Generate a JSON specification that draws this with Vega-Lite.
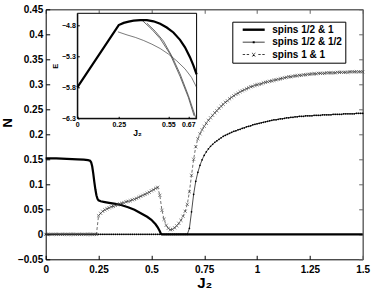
{
"$schema":"https://vega.github.io/schema/vega-lite/v6.json",
"width":317,"height":250,"autosize":"none",
"padding":{"left":45.7,"top":9.3,"right":11.3,"bottom":34.7},
"background":"white",
"config":{"font":"Liberation Sans","view":{"stroke":null},
 "axis":{"grid":false,"domainColor":"black","tickColor":"black","labelColor":"black","titleColor":"black","labelFont":"Liberation Sans","titleFont":"Liberation Sans","labelFontWeight":"bold","titleFontWeight":"bold","labelFlush":false,"labelOverlap":false,"labelBound":false}},
"datasets":{
 "s1":[{"x":0,"n":0.152},{"x":0.05,"n":0.1518},{"x":0.1,"n":0.151},{"x":0.15,"n":0.150},{"x":0.18,"n":0.1492},{"x":0.2,"n":0.1483},{"x":0.21,"n":0.147},{"x":0.215,"n":0.144},{"x":0.22,"n":0.136},{"x":0.225,"n":0.122},{"x":0.23,"n":0.105},{"x":0.235,"n":0.090},{"x":0.24,"n":0.078},{"x":0.245,"n":0.071},{"x":0.25,"n":0.068},{"x":0.26,"n":0.066},{"x":0.28,"n":0.0645},{"x":0.3,"n":0.063},{"x":0.33,"n":0.061},{"x":0.36,"n":0.058},{"x":0.39,"n":0.054},{"x":0.42,"n":0.049},{"x":0.45,"n":0.042},{"x":0.48,"n":0.035},{"x":0.5,"n":0.029},{"x":0.52,"n":0.020},{"x":0.53,"n":0.014},{"x":0.54,"n":0.006},{"x":0.545,"n":0.001},{"x":0.55,"n":0},{"x":1.5,"n":0}],
 "s2":[{"x":0,"n":0},{"x":0.01,"n":0},{"x":0.02,"n":0},{"x":0.03,"n":0},{"x":0.04,"n":0},{"x":0.05,"n":0},{"x":0.06,"n":0},{"x":0.07,"n":0},{"x":0.08,"n":0},{"x":0.09,"n":0},
 {"x":0.1,"n":0},{"x":0.11,"n":0},{"x":0.12,"n":0},{"x":0.13,"n":0},{"x":0.14,"n":0},{"x":0.15,"n":0},{"x":0.16,"n":0},{"x":0.17,"n":0},{"x":0.18,"n":0},{"x":0.19,"n":0},
 {"x":0.2,"n":0},{"x":0.21,"n":0},{"x":0.22,"n":0},{"x":0.23,"n":0},{"x":0.24,"n":0},{"x":0.25,"n":0},{"x":0.26,"n":0},{"x":0.27,"n":0},{"x":0.28,"n":0},{"x":0.29,"n":0},
 {"x":0.3,"n":0},{"x":0.31,"n":0},{"x":0.32,"n":0},{"x":0.33,"n":0},{"x":0.34,"n":0},{"x":0.35,"n":0},{"x":0.36,"n":0},{"x":0.37,"n":0},{"x":0.38,"n":0},{"x":0.39,"n":0},
 {"x":0.4,"n":0},{"x":0.41,"n":0},{"x":0.42,"n":0},{"x":0.43,"n":0},{"x":0.44,"n":0},{"x":0.45,"n":0},{"x":0.46,"n":0},{"x":0.47,"n":0},{"x":0.48,"n":0},{"x":0.49,"n":0},
 {"x":0.5,"n":0},{"x":0.51,"n":0},{"x":0.52,"n":0},{"x":0.53,"n":0},{"x":0.54,"n":0},{"x":0.55,"n":0},{"x":0.56,"n":0},{"x":0.57,"n":0},{"x":0.58,"n":0},{"x":0.59,"n":0},
 {"x":0.6,"n":0},{"x":0.61,"n":0},{"x":0.62,"n":0},{"x":0.63,"n":0},{"x":0.64,"n":0},{"x":0.65,"n":0},{"x":0.66,"n":0},{"x":0.67,"n":0},{"x":0.68,"n":0.012},{"x":0.69,"n":0.045},
 {"x":0.7,"n":0.080},{"x":0.71,"n":0.106},{"x":0.72,"n":0.124},{"x":0.73,"n":0.138},{"x":0.74,"n":0.149},{"x":0.75,"n":0.158},{"x":0.76,"n":0.165},{"x":0.77,"n":0.171},{"x":0.78,"n":0.176},{"x":0.79,"n":0.180},
 {"x":0.8,"n":0.184},{"x":0.81,"n":0.187},{"x":0.82,"n":0.190},{"x":0.83,"n":0.193},{"x":0.84,"n":0.196},{"x":0.85,"n":0.198},{"x":0.86,"n":0.200},{"x":0.87,"n":0.202},{"x":0.88,"n":0.204},{"x":0.89,"n":0.206},
 {"x":0.9,"n":0.207},{"x":0.91,"n":0.209},{"x":0.92,"n":0.210},{"x":0.93,"n":0.212},{"x":0.94,"n":0.213},{"x":0.95,"n":0.215},{"x":0.96,"n":0.216},{"x":0.97,"n":0.217},{"x":0.98,"n":0.219},{"x":0.99,"n":0.220},
 {"x":1.0,"n":0.221},{"x":1.01,"n":0.222},{"x":1.02,"n":0.223},{"x":1.03,"n":0.224},{"x":1.04,"n":0.225},{"x":1.05,"n":0.226},{"x":1.06,"n":0.227},{"x":1.07,"n":0.228},{"x":1.08,"n":0.229},{"x":1.09,"n":0.229},
 {"x":1.1,"n":0.230},{"x":1.11,"n":0.231},{"x":1.12,"n":0.231},{"x":1.13,"n":0.232},{"x":1.14,"n":0.233},{"x":1.15,"n":0.233},{"x":1.16,"n":0.234},{"x":1.17,"n":0.234},{"x":1.18,"n":0.235},{"x":1.19,"n":0.235},
 {"x":1.2,"n":0.236},{"x":1.21,"n":0.236},{"x":1.22,"n":0.236},{"x":1.23,"n":0.237},{"x":1.24,"n":0.237},{"x":1.25,"n":0.237},{"x":1.26,"n":0.237},{"x":1.27,"n":0.238},{"x":1.28,"n":0.238},{"x":1.29,"n":0.238},
 {"x":1.3,"n":0.238},{"x":1.31,"n":0.239},{"x":1.32,"n":0.239},{"x":1.33,"n":0.239},{"x":1.34,"n":0.239},{"x":1.35,"n":0.239},{"x":1.36,"n":0.240},{"x":1.37,"n":0.240},{"x":1.38,"n":0.240},{"x":1.39,"n":0.240},
 {"x":1.4,"n":0.240},{"x":1.41,"n":0.241},{"x":1.42,"n":0.241},{"x":1.43,"n":0.241},{"x":1.44,"n":0.241},{"x":1.45,"n":0.241},{"x":1.46,"n":0.241},{"x":1.47,"n":0.242},{"x":1.48,"n":0.242},{"x":1.49,"n":0.242},{"x":1.5,"n":0.242}],
 "s3":[{"x":0,"n":0},{"x":0.01,"n":0},{"x":0.02,"n":0},{"x":0.03,"n":0},{"x":0.04,"n":0},{"x":0.05,"n":0},{"x":0.06,"n":0},{"x":0.07,"n":0},{"x":0.08,"n":0},{"x":0.09,"n":0},
 {"x":0.1,"n":0},{"x":0.11,"n":0},{"x":0.12,"n":0},{"x":0.13,"n":0},{"x":0.14,"n":0},{"x":0.15,"n":0},{"x":0.16,"n":0},{"x":0.17,"n":0},{"x":0.18,"n":0},{"x":0.19,"n":0},
 {"x":0.2,"n":0},{"x":0.21,"n":0},{"x":0.22,"n":0},{"x":0.23,"n":0},{"x":0.24,"n":0},{"x":0.25,"n":0.037},{"x":0.26,"n":0.042},{"x":0.27,"n":0.046},{"x":0.28,"n":0.049},{"x":0.29,"n":0.051},
 {"x":0.3,"n":0.053},{"x":0.31,"n":0.055},{"x":0.32,"n":0.056},{"x":0.33,"n":0.058},{"x":0.34,"n":0.059},{"x":0.35,"n":0.061},{"x":0.36,"n":0.062},{"x":0.37,"n":0.063},{"x":0.38,"n":0.065},{"x":0.39,"n":0.066},
 {"x":0.4,"n":0.067},{"x":0.41,"n":0.069},{"x":0.42,"n":0.070},{"x":0.43,"n":0.072},{"x":0.44,"n":0.074},{"x":0.45,"n":0.076},{"x":0.46,"n":0.078},{"x":0.47,"n":0.080},{"x":0.48,"n":0.082},{"x":0.49,"n":0.084},
 {"x":0.5,"n":0.087},{"x":0.51,"n":0.089},{"x":0.52,"n":0.092},{"x":0.53,"n":0.094},{"x":0.54,"n":0.078},{"x":0.55,"n":0.048},{"x":0.56,"n":0.030},{"x":0.57,"n":0.018},{"x":0.58,"n":0.012},{"x":0.59,"n":0.009},
 {"x":0.6,"n":0.010},{"x":0.61,"n":0.013},{"x":0.62,"n":0.017},{"x":0.63,"n":0.022},{"x":0.64,"n":0.028},{"x":0.65,"n":0.036},{"x":0.66,"n":0.046},{"x":0.67,"n":0.060},{"x":0.68,"n":0.085},{"x":0.69,"n":0.118},
 {"x":0.7,"n":0.150},{"x":0.71,"n":0.175},{"x":0.72,"n":0.191},{"x":0.73,"n":0.201},{"x":0.74,"n":0.209},{"x":0.75,"n":0.216},{"x":0.76,"n":0.222},{"x":0.77,"n":0.228},{"x":0.78,"n":0.233},{"x":0.79,"n":0.238},
 {"x":0.8,"n":0.243},{"x":0.81,"n":0.247},{"x":0.82,"n":0.252},{"x":0.83,"n":0.256},{"x":0.84,"n":0.260},{"x":0.85,"n":0.264},{"x":0.86,"n":0.267},{"x":0.87,"n":0.271},{"x":0.88,"n":0.274},{"x":0.89,"n":0.277},
 {"x":0.9,"n":0.280},{"x":0.91,"n":0.282},{"x":0.92,"n":0.285},{"x":0.93,"n":0.287},{"x":0.94,"n":0.289},{"x":0.95,"n":0.291},{"x":0.96,"n":0.293},{"x":0.97,"n":0.295},{"x":0.98,"n":0.296},{"x":0.99,"n":0.298},
 {"x":1.0,"n":0.299},{"x":1.01,"n":0.300},{"x":1.02,"n":0.301},{"x":1.03,"n":0.303},{"x":1.04,"n":0.304},{"x":1.05,"n":0.305},{"x":1.06,"n":0.306},{"x":1.07,"n":0.307},{"x":1.08,"n":0.308},{"x":1.09,"n":0.309},
 {"x":1.1,"n":0.310},{"x":1.11,"n":0.311},{"x":1.12,"n":0.312},{"x":1.13,"n":0.313},{"x":1.14,"n":0.314},{"x":1.15,"n":0.315},{"x":1.16,"n":0.315},{"x":1.17,"n":0.316},{"x":1.18,"n":0.317},{"x":1.19,"n":0.317},
 {"x":1.2,"n":0.318},{"x":1.21,"n":0.318},{"x":1.22,"n":0.319},{"x":1.23,"n":0.319},{"x":1.24,"n":0.320},{"x":1.25,"n":0.320},{"x":1.26,"n":0.321},{"x":1.27,"n":0.321},{"x":1.28,"n":0.321},{"x":1.29,"n":0.322},
 {"x":1.3,"n":0.322},{"x":1.31,"n":0.322},{"x":1.32,"n":0.322},{"x":1.33,"n":0.323},{"x":1.34,"n":0.323},{"x":1.35,"n":0.323},{"x":1.36,"n":0.323},{"x":1.37,"n":0.323},{"x":1.38,"n":0.324},{"x":1.39,"n":0.324},
 {"x":1.4,"n":0.324},{"x":1.41,"n":0.324},{"x":1.42,"n":0.324},{"x":1.43,"n":0.324},{"x":1.44,"n":0.325},{"x":1.45,"n":0.325},{"x":1.46,"n":0.325},{"x":1.47,"n":0.325},{"x":1.48,"n":0.325},{"x":1.49,"n":0.325},{"x":1.5,"n":0.325}],
 "c1":[{"x":0,"e":-5.8},{"x":0.25,"e":-4.79},{"x":0.28,"e":-4.755},{"x":0.31,"e":-4.735},{"x":0.34,"e":-4.72},{"x":0.38,"e":-4.71},{"x":0.42,"e":-4.71},{"x":0.46,"e":-4.73},{"x":0.5,"e":-4.77},{"x":0.54,"e":-4.83},{"x":0.58,"e":-4.91},{"x":0.62,"e":-5.03},{"x":0.65,"e":-5.15},{"x":0.68,"e":-5.31},{"x":0.7,"e":-5.44},{"x":0.72,"e":-5.59}],
 "c2":[{"x":0.245,"e":-4.9},{"x":0.3,"e":-4.95},{"x":0.35,"e":-4.99},{"x":0.4,"e":-5.04},{"x":0.45,"e":-5.1},{"x":0.5,"e":-5.17},{"x":0.55,"e":-5.26},{"x":0.6,"e":-5.37},{"x":0.65,"e":-5.5},{"x":0.69,"e":-5.64},{"x":0.72,"e":-5.8}],
 "c3":[{"k":"a","x":0.39,"e":-4.71},{"k":"a","x":0.45,"e":-4.86},{"k":"a","x":0.5,"e":-5.01},{"k":"a","x":0.56,"e":-5.26},{"k":"a","x":0.62,"e":-5.62},{"k":"a","x":0.67,"e":-5.96},{"k":"a","x":0.705,"e":-6.26},
 {"k":"b","x":0.42,"e":-4.76},{"k":"b","x":0.47,"e":-4.89},{"k":"b","x":0.52,"e":-5.05},{"k":"b","x":0.57,"e":-5.29},{"k":"b","x":0.62,"e":-5.58},{"k":"b","x":0.67,"e":-5.93},{"k":"b","x":0.716,"e":-6.3}]
},
"layer":[
 {"data":{"name":"s1"},"mark":{"type":"line","color":"black","strokeWidth":2.2},
  "encoding":{
   "x":{"field":"x","type":"quantitative","scale":{"domain":[0,1.5],"nice":false,"zero":false},
    "axis":{"orient":"bottom","values":[0,0.25,0.5,0.75,1,1.25,1.5],"labelExpr":"'' + datum.value","labelFontSize":10,"tickSize":-4,"labelPadding":9,"title":"J₂","titleFontSize":15,"titlePadding":1}},
   "y":{"field":"n","type":"quantitative","scale":{"domain":[-0.05,0.45],"nice":false,"zero":false},
    "axis":{"orient":"left","values":[-0.05,0,0.05,0.1,0.15,0.2,0.25,0.3,0.35,0.4,0.45],"format":"~g","labelFontSize":10,"tickSize":-4,"labelPadding":7,"title":"N","titleFontSize":13,"titleX":-31,"titleY":113}}}},
 {"data":{"name":"s2"},"mark":{"type":"line","color":"black","strokeWidth":0.7},
  "encoding":{"x":{"field":"x","type":"quantitative","scale":{"domain":[0,1.5],"nice":false,"zero":false},"axis":null},
   "y":{"field":"n","type":"quantitative","scale":{"domain":[-0.05,0.45],"nice":false,"zero":false},"axis":null}}},
 {"data":{"name":"s2"},"mark":{"type":"circle","color":"black","size":3,"opacity":1},
  "encoding":{"x":{"field":"x","type":"quantitative","scale":{"domain":[0,1.5],"nice":false,"zero":false},"axis":null},
   "y":{"field":"n","type":"quantitative","scale":{"domain":[-0.05,0.45],"nice":false,"zero":false},"axis":null}}},
 {"data":{"name":"s3"},"mark":{"type":"line","color":"#333333","strokeWidth":0.7,"strokeDash":[3,2]},
  "encoding":{"x":{"field":"x","type":"quantitative","scale":{"domain":[0,1.5],"nice":false,"zero":false},"axis":null},
   "y":{"field":"n","type":"quantitative","scale":{"domain":[-0.05,0.45],"nice":false,"zero":false},"axis":null}}},
 {"data":{"name":"s3"},"mark":{"type":"point","shape":"M-1,-1L1,1M-1,1L1,-1","filled":false,"color":"#333333","strokeWidth":0.6,"size":10,"opacity":1},
  "encoding":{"x":{"field":"x","type":"quantitative","scale":{"domain":[0,1.5],"nice":false,"zero":false},"axis":null},
   "y":{"field":"n","type":"quantitative","scale":{"domain":[-0.05,0.45],"nice":false,"zero":false},"axis":null}}},
 {"data":{"name":"s1"},"mark":{"type":"point","opacity":0},
  "encoding":{
   "x":{"field":"x","type":"quantitative","scale":{"domain":[0,1.5],"nice":false,"zero":false},
    "axis":{"orient":"top","values":[0,0.25,0.5,0.75,1,1.25,1.5],"labels":false,"tickSize":-4,"title":null,"domainColor":"#666666","domainWidth":1.5,"tickColor":"#666666"}},
   "y":{"field":"n","type":"quantitative","scale":{"domain":[-0.05,0.45],"nice":false,"zero":false},
    "axis":{"orient":"right","values":[-0.05,0,0.05,0.1,0.15,0.2,0.25,0.3,0.35,0.4,0.45],"labels":false,"tickSize":-4,"title":null,"domainColor":"#666666","domainWidth":1.5,"tickColor":"#666666"}}}},
 {"data":{"values":[{"s":"spins 1/2 & 1"},{"s":"spins 1/2 & 1/2"},{"s":"spins 1 & 1"}]},
  "transform":[{"filter":"datum.s == 'none'"}],
  "mark":{"type":"point","filled":true,"color":"black"},
  "encoding":{"shape":{"field":"s","type":"nominal",
   "scale":{"domain":["spins 1/2 & 1","spins 1/2 & 1/2","spins 1 & 1"],
    "range":["M0.6,-0.3H6.1V0.3H0.6Z","M0.6,-0.1H6.1V0.1H0.6Z M3.1,-0.25H3.6V0.25H3.1Z","M0.6,-0.09H1.2V0.09H0.6Z M1.6,-0.09H2.2V0.09H1.6Z M4.5,-0.09H5.1V0.09H4.5Z M5.5,-0.09H6.1V0.09H5.5Z M2.85,-0.5L3.0,-0.5L3.85,0.5L3.7,0.5Z M3.7,-0.5L3.85,-0.5L3.0,0.5L2.85,0.5Z"]},
   "legend":{"orient":"none","legendX":186.6,"legendY":12.4,"title":null,"padding":3,"rowPadding":2.5,"strokeColor":"black","fillColor":"white","cornerRadius":0,
    "symbolSize":64,"symbolFillColor":"black","symbolStrokeColor":"black","symbolStrokeWidth":0,"symbolOpacity":1,
    "labelFont":"Liberation Sans","labelFontWeight":"bold","labelFontSize":10,"labelColor":"black","labelOffset":27,"labelLimit":200}}}},
 {"data":{"values":[{}]},"mark":{"type":"rect","fill":"white","stroke":"black","strokeWidth":1},
  "encoding":{
   "x":{"datum":0,"type":"quantitative","scale":{"domain":[0,0.72],"range":[31.6,150.9],"nice":false,"zero":false},"axis":null},
   "x2":{"datum":0.72},
   "y":{"datum":-6.3,"type":"quantitative","scale":{"domain":[-6.3,-4.6],"range":[109,4],"nice":false,"zero":false},"axis":null},
   "y2":{"datum":-4.6}}},
 {"data":{"name":"c2"},"mark":{"type":"line","color":"#222222","strokeWidth":0.6},
  "encoding":{"x":{"field":"x","type":"quantitative","scale":{"domain":[0,0.72],"range":[31.6,150.9],"nice":false,"zero":false},"axis":null},
   "y":{"field":"e","type":"quantitative","scale":{"domain":[-6.3,-4.6],"range":[109,4],"nice":false,"zero":false},"axis":null}}},
 {"data":{"name":"c3"},"mark":{"type":"line","color":"#444444","strokeWidth":0.8},
  "encoding":{"x":{"field":"x","type":"quantitative","scale":{"domain":[0,0.72],"range":[31.6,150.9],"nice":false,"zero":false},"axis":null},
   "y":{"field":"e","type":"quantitative","scale":{"domain":[-6.3,-4.6],"range":[109,4],"nice":false,"zero":false},"axis":null},"detail":{"field":"k"}}},
 {"data":{"name":"c1"},"mark":{"type":"line","color":"black","strokeWidth":2.2},
  "encoding":{
   "x":{"field":"x","type":"quantitative","scale":{"domain":[0,0.72],"range":[31.6,150.9],"nice":false,"zero":false},
    "axis":{"orient":"bottom","offset":-141,"zindex":2,"values":[0,0.25,0.55,0.67],"labelExpr":"'' + datum.value","labelFontSize":7,"tickSize":-2,"labelPadding":4,"title":"J₂","titleFontSize":8.5,"titlePadding":1}},
   "y":{"field":"e","type":"quantitative","scale":{"domain":[-6.3,-4.6],"range":[109,4],"nice":false,"zero":false},
    "axis":{"orient":"left","offset":-31.6,"zindex":2,"values":[-4.8,-5.3,-5.8,-6.3],"format":".1f","labelFontSize":7,"tickSize":-2,"labelPadding":4,"title":"E","titleFontSize":7.5,"titlePadding":2}}}}
],
"resolve":{"scale":{"x":"independent","y":"independent"}}
}
